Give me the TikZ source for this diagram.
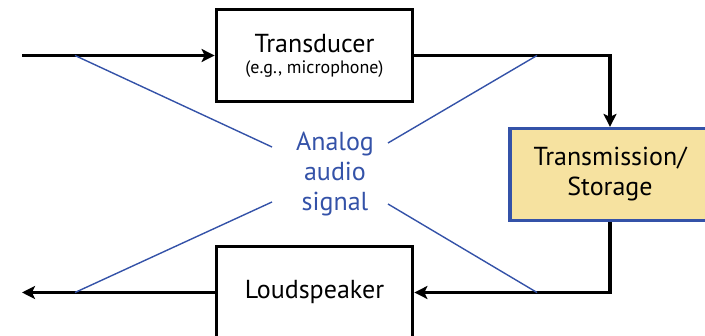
\documentclass[tikz,border=0pt]{standalone}
\usepackage{fontspec}
\setmainfont{PT Sans}
\usetikzlibrary{arrows.meta,positioning,calc}
\definecolor{SignalBlue}{RGB}{52,82,168}
\definecolor{StoreFill}{RGB}{246,226,160}

\begin{document}
\begin{tikzpicture}[x=1pt, y=-1pt,
    box/.style={draw, line width=3.8pt, minimum width=196pt, minimum height=92pt, align=center, font=\fontsize{26}{30}\selectfont, inner sep=0pt},
    arrow/.style={-{Stealth[length=13pt,width=13pt,inset=3pt]}, line width=3.2pt},
    pointer/.style={SignalBlue, line width=1.4pt}
]
    \useasboundingbox (0,0) rectangle (705,336);
    \begin{scope}
    \clip (0,0) rectangle (705,336);
    \node[box] (trans) at (314.5,55.5) {Transducer\\[-9pt]{\fontsize{18}{20}\selectfont (e.g., microphone)}};
    \node[box, draw=SignalBlue, line width=3.2pt, fill=StoreFill, minimum width=200pt] (store) at (610,174.5) {Transmission/\\Storage};
    \node[box] (speaker) at (314.5,292.5) {Loudspeaker};
    \end{scope}
    \node[font=\fontsize{26}{30}\selectfont, text=SignalBlue, align=center] (signal) at (335,174) {Analog\\audio\\signal};

    \coordinate (in) at (22,55.5);
    \coordinate (out) at (22,292.5);
    \coordinate (ptA) at (75,55.5);
    \coordinate (ptB) at (537,55.5);
    \coordinate (ptC) at (75,292.5);
    \coordinate (ptD) at (537,292.5);

    \draw[arrow] (in) -- (trans);
    \draw[arrow] (trans.east) -| (store.north);
    \draw[arrow] (store.south) |- (speaker.east);
    \draw[arrow] (speaker.west) -- (out);

    \draw[pointer] (ptA) -- (272,147);
    \draw[pointer] (ptB) -- (388,143);
    \draw[pointer] (ptC) -- (272,202);
    \draw[pointer] (ptD) -- (388,204);
\end{tikzpicture}
\end{document}
